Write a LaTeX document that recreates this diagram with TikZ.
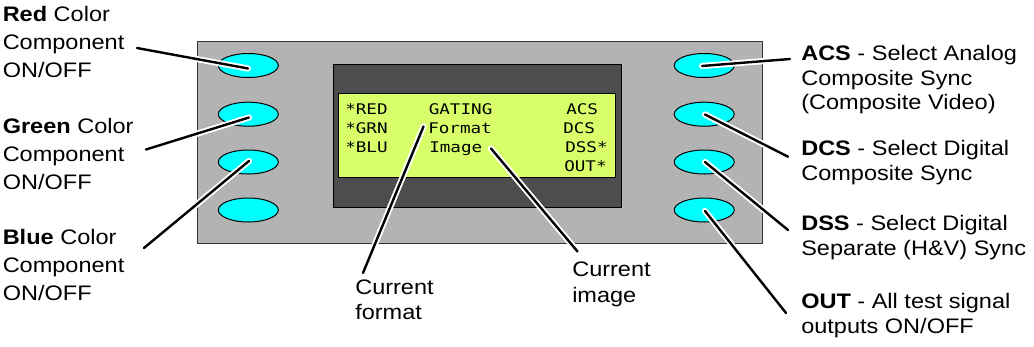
\documentclass[tikz,border=0pt]{standalone}
\usepackage{fontspec}
\setmainfont{Liberation Sans}[FakeStretch=1.12]
\newfontfamily\lcdfont{DejaVu Sans Mono}[FakeStretch=1.2]
\usetikzlibrary{shapes.geometric}
\definecolor{panelgray}{RGB}{179,179,179}
\definecolor{screendark}{RGB}{77,77,77}
\definecolor{lcdgreen}{RGB}{216,255,106}
\definecolor{btncyan}{RGB}{0,255,255}
\tikzset{
  box/.style={anchor=north west, inner sep=0pt, line width=0.75pt},
  btn/.style={ellipse, draw=black, line width=0.75pt, fill=btncyan, minimum width=45pt, minimum height=18pt, inner sep=0pt},
  lcdtxt/.style={inner sep=0pt, anchor=base west, font=\lcdfont\fontsize{11pt}{14pt}\selectfont},
  lbl/.style={inner sep=0pt, anchor=north west, align=left, font=\fontsize{15.75pt}{21pt}\selectfont},
  lblr/.style={lbl, font=\fontsize{15.75pt}{18.4pt}\selectfont},
  lblb/.style={lbl, font=\fontsize{15.75pt}{19pt}\selectfont},
  callout/.style={draw=black, line width=1.8pt, line cap=round, preaction={draw=white, line width=4.6pt, line cap=round}}
}
\begin{document}
\begin{tikzpicture}[x=0.75pt,y=-0.75pt]
\useasboundingbox (0,0) rectangle (1034,346);
% panel, screen, LCD
\node[box, draw=black!80, fill=panelgray, minimum width=423.3pt, minimum height=151.95pt] (panel) at (197.3,40.7) {};
\node[box, draw=black, fill=screendark, minimum width=216pt, minimum height=107pt] (screen) at (332.7,64) {};
\node[box, draw=black, fill=lcdgreen, minimum width=207.5pt, minimum height=63pt] (lcd) at (338.3,93.3) {};
% buttons
\node[btn] (L1) at (248.3,65.5) {};
\node[btn] (L2) at (248.3,114.2) {};
\node[btn] (L3) at (248.3,162) {};
\node[btn] (L4) at (248.3,210) {};
\node[btn] (R1) at (704.2,65.5) {};
\node[btn] (R2) at (704.2,114.2) {};
\node[btn] (R3) at (704.2,162) {};
\node[btn] (R4) at (704.2,210) {};
% LCD text
\node[lcdtxt] (t1) at (345,114) {*RED};
\node[lcdtxt] (t2) at (345,133.3) {*GRN};
\node[lcdtxt] (t3) at (345,152.3) {*BLU};
\node[lcdtxt] (gating) at (428.5,114) {GATING};
\node[lcdtxt] (format) at (428,133.3) {Format};
\node[lcdtxt] (image) at (429,152.3) {Image};
\node[lcdtxt] (acs) at (566,114) {ACS};
\node[lcdtxt] (dcs) at (563,133.3) {DCS};
\node[lcdtxt] (dss) at (565,152.3) {DSS*};
\node[lcdtxt] (out) at (564,171) {OUT*};
% connector end coordinates
\coordinate (cRedA) at (137,48);   \coordinate (cRedB) at (248,68.5);
\coordinate (cGrnA) at (146,149.5); \coordinate (cGrnB) at (249,117.5);
\coordinate (cBluA) at (144,248);  \coordinate (cBluB) at (249,161);
\coordinate (cAcsA) at (790,59);   \coordinate (cAcsB) at (702,66);
\coordinate (cDcsA) at (788,156.7); \coordinate (cDcsB) at (705,114.5);
\coordinate (cDssA) at (788,230);  \coordinate (cDssB) at (705,162);
\coordinate (cOutA) at (786,313);  \coordinate (cOutB) at (705,211);
\coordinate (cFmtA) at (423.5,126.5); \coordinate (cFmtB) at (363,273);
\coordinate (cImgA) at (491,148.5); \coordinate (cImgB) at (577.5,251.5);
\draw[callout] (cRedA) -- (cRedB);
\draw[callout] (cGrnA) -- (cGrnB);
\draw[callout] (cBluA) -- (cBluB);
\draw[callout] (cAcsA) -- (cAcsB);
\draw[callout] (cDcsA) -- (cDcsB);
\draw[callout] (cDssA) -- (cDssB);
\draw[callout] (cOutA) -- (cOutB);
\draw[callout] (cFmtA) -- (cFmtB);
\draw[callout] (cImgA) -- (cImgB);
% labels
\node[lbl] (redlbl) at (2.5,6) {\textbf{Red} Color\\Component\\ON/OFF};
\node[lbl] (grnlbl) at (2.5,118) {\textbf{Green} Color\\Component\\ON/OFF};
\node[lbl] (blulbl) at (2.5,229.3) {\textbf{Blue} Color\\Component\\ON/OFF};
\node[lblr] (acslbl) at (801,45) {\textbf{ACS} - Select Analog\\Composite Sync\\(Composite Video)};
\node[lblr] (dcslbl) at (801,140) {\textbf{DCS} - Select Digital\\Composite Sync};
\node[lblr] (dsslbl) at (801,215) {\textbf{DSS} - Select Digital\\Separate (H\&V) Sync};
\node[lblr] (outlbl) at (801,293.3) {\textbf{OUT} - All test signal\\outputs ON/OFF};
\node[lblb] (fmtlbl) at (355,279.3) {Current\\format};
\node[lblb] (imglbl) at (572,262) {Current\\image};
\end{tikzpicture}
\end{document}
